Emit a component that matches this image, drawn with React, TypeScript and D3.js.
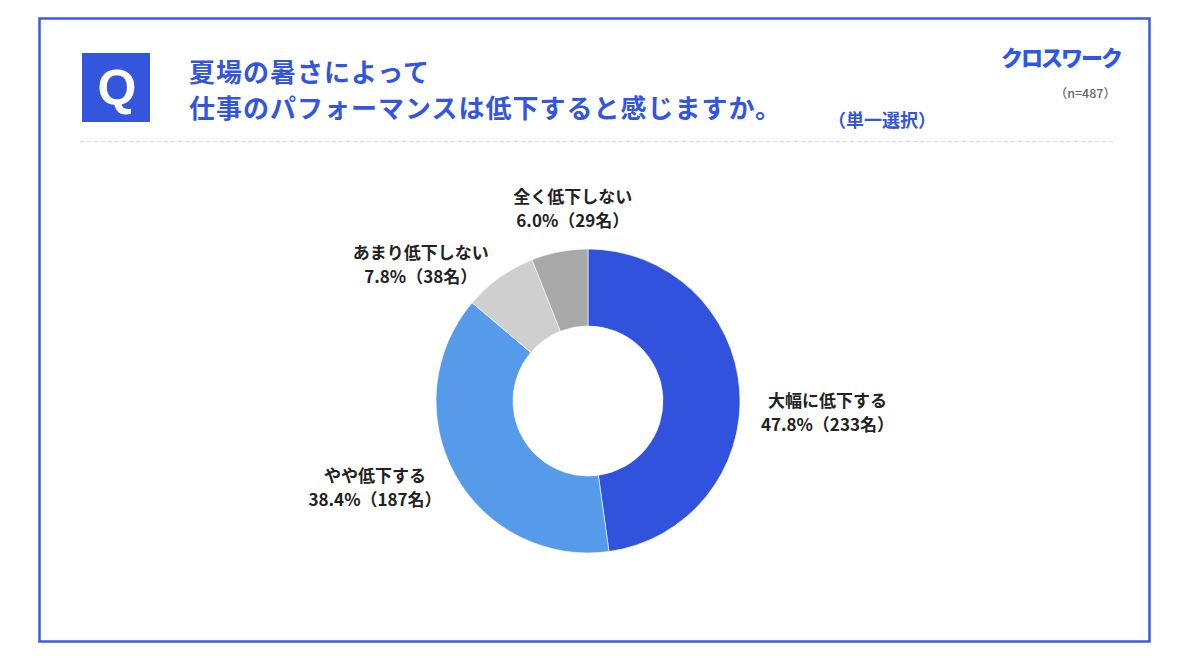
import * as d3 from "d3"
import { useEffect, useRef } from "react"

// answer categories, clockwise from 12 o'clock
const categories = ["大幅に低下する", "やや低下する", "あまり低下しない", "全く低下しない"]
const percents = [47.8, 38.4, 7.8, 6.0]
const counts = [233, 187, 38, 29]
const colors = ["#3152dc", "#569bea", "#cfcfcf", "#a9a9a9"]

const titleLines = ["夏場の暑さによって", "仕事のパフォーマンスは低下すると感じますか。"]
const subTitle = "（単一選択）"
const sampleNote = "（n=487）"
const logoText = "クロスワーク"

// label placement: distance from centre along the slice middle, plus a nudge (layout only)
const labelLayout = [
  { r: 240, dx: 0, dy: 29 },
  { r: 243, dx: 0, dy: -30 },
  { r: 215, dx: -42, dy: 39 },
  { r: 193, dx: 21, dy: -2 },
]

const W = 1202
const H = 658
const BLUE = "#3356dd"
const FONT = "'Noto Sans CJK JP', 'Noto Sans', sans-serif"

const App = () => {
  const svgRef = useRef<SVGSVGElement>(null)

  useEffect(() => {
    if (!svgRef.current) return
    const svg = d3.select(svgRef.current)
    svg.selectAll("*").remove()
    svg.attr("width", W).attr("height", H).style("font-family", FONT)

    svg.append("rect").attr("width", W).attr("height", H).attr("fill", "#fff")

    // frame
    svg
      .append("rect")
      .attr("x", 39.5)
      .attr("y", 18.5)
      .attr("width", 1110)
      .attr("height", 623)
      .attr("fill", "#fff")
      .attr("stroke", "#3a5ae3")
      .attr("stroke-width", 2.5)

    // Q box
    svg.append("rect").attr("x", 82).attr("y", 53).attr("width", 68).attr("height", 69).attr("fill", BLUE)
    svg
      .append("text")
      .attr("x", 117)
      .attr("y", 105)
      .attr("text-anchor", "middle")
      .attr("font-size", 50)
      .attr("font-weight", 700)
      .attr("fill", "#fff")
      .attr("font-family", "'Liberation Sans', Arial, sans-serif")
      .text("Q")

    // title
    svg
      .selectAll("text.title")
      .data(titleLines)
      .join("text")
      .attr("class", "title")
      .attr("x", 189)
      .attr("y", (_, i) => 82 + i * 36)
      .attr("font-size", 26)
      .attr("font-weight", 700)
      .attr("letter-spacing", 1)
      .attr("fill", BLUE)
      .text((d) => d)

    svg
      .append("text")
      .attr("x", 828)
      .attr("y", 127)
      .attr("font-size", 18)
      .attr("font-weight", 700)
      .attr("fill", BLUE)
      .text(subTitle)

    // logo + n
    svg
      .append("text")
      .attr("x", 1121)
      .attr("y", 66)
      .attr("text-anchor", "end")
      .attr("font-size", 22)
      .attr("font-weight", 900)
      .attr("fill", "#2f56e6")
      .attr("letter-spacing", -2)
      .text(logoText)
    svg
      .append("text")
      .attr("x", 1116)
      .attr("y", 98)
      .attr("text-anchor", "end")
      .attr("font-size", 12.5)
      .attr("font-weight", 500)
      .attr("fill", "#666")
      .text(sampleNote)

    // dashed separator
    svg
      .append("line")
      .attr("x1", 80)
      .attr("x2", 1114)
      .attr("y1", 141.5)
      .attr("y2", 141.5)
      .attr("stroke", "#d6d6d6")
      .attr("stroke-width", 1)
      .style("stroke-dasharray", "4,3")

    // donut
    const cx = 588
    const cy = 401
    const outerR = 152
    const innerR = 75

    const pie = d3
      .pie<number>()
      .sort(null)
      .value((d) => d)
    const arcs = pie(percents)
    const arc = d3.arc<d3.PieArcDatum<number>>().innerRadius(innerR).outerRadius(outerR)

    const g = svg.append("g").attr("transform", `translate(${cx},${cy})`)
    g.selectAll("path")
      .data(arcs)
      .join("path")
      .attr("d", arc)
      .attr("fill", (_, i) => colors[i])
      .attr("stroke", "#fff")
      .attr("stroke-width", 0.6)

    // labels
    arcs.forEach((a, i) => {
      const mid = (a.startAngle + a.endAngle) / 2
      const L = labelLayout[i]
      const x = Math.sin(mid) * L.r + L.dx
      const y = -Math.cos(mid) * L.r + L.dy
      const t = g
        .append("text")
        .attr("text-anchor", "middle")
        .attr("font-size", 17)
        .attr("font-weight", 700)
        .attr("fill", "#222")
      t.append("tspan").attr("x", x).attr("y", y - 6).text(categories[i])
      t.append("tspan")
        .attr("x", x)
        .attr("y", y + 18)
        .text(`${percents[i].toFixed(1)}%（${counts[i]}名）`)
    })
  }, [])

  return (
    <div style={{ position: "absolute", left: 0, top: 0, width: W, height: H }}>
      <svg ref={svgRef} style={{ display: "block" }} />
    </div>
  )
}

export default App
